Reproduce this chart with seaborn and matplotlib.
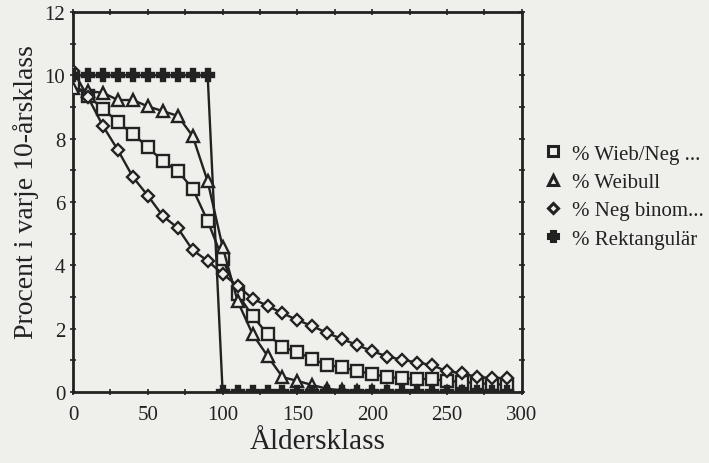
import matplotlib
matplotlib.use("Agg")
import matplotlib.pyplot as plt
import seaborn as sns
import pandas as pd
from matplotlib.ticker import MultipleLocator

sns.set_theme(style="ticks")
plt.rcParams['font.family'] = ['Liberation Serif', 'DejaVu Serif']

age = [0, 10, 20, 30, 40, 50, 60, 70, 80, 90, 100, 110, 120, 130, 140,
       150, 160, 170, 180, 190, 200, 210, 220, 230, 240, 250, 260, 270, 280, 290]

wieb_neg = [9.7, 9.35, 8.95, 8.52, 8.15, 7.73, 7.29, 6.98, 6.42, 5.4, 4.2, 3.1, 2.4, 1.83, 1.42,
            1.26, 1.04, 0.85, 0.78, 0.66, 0.57, 0.47, 0.44, 0.41, 0.41, 0.35, 0.32, 0.28, 0.25, 0.23]
weibull = [9.6, 9.5, 9.45, 9.22, 9.22, 9.02, 8.87, 8.72, 8.08, 6.65, 4.58, 2.87, 1.83, 1.14, 0.47,
           0.35, 0.22, 0.1, 0.05, 0.03, 0.02, 0.01, 0.0, 0.0, 0.0, 0.0, 0.0, 0.0, 0.0, 0.0]
neg_binom = [10.15, 9.31, 8.4, 7.64, 6.79, 6.2, 5.56, 5.18, 4.48, 4.14, 3.73, 3.35, 2.95, 2.72, 2.49,
             2.27, 2.08, 1.86, 1.67, 1.48, 1.29, 1.12, 1.02, 0.93, 0.85, 0.65, 0.6, 0.47, 0.44, 0.44]
rektangular = [10, 10, 10, 10, 10, 10, 10, 10, 10, 10, 0, 0, 0, 0, 0,
               0, 0, 0, 0, 0, 0, 0, 0, 0, 0, 0, 0, 0, 0, 0]

labels = ["% Wieb/Neg ...", "% Weibull", "% Neg binom...", "% Rektangulär"]
series = [wieb_neg, weibull, neg_binom, rektangular]
markers = ["s", "^", "D", "P"]

ink = "#222222"
bg = "#efefeb"
fig = plt.figure(figsize=(7.09, 4.64), dpi=100, facecolor=bg)
ax = fig.add_axes([0.103, 0.153, 0.633, 0.819])
ax.set_facecolor(bg)

for lab, vals, mk in zip(labels, series, markers):
    df = pd.DataFrame({"age": age, "val": vals})
    ms = 8 if mk != "D" else 6.5
    face = bg if mk != "P" else ink
    sns.lineplot(data=df, x="age", y="val", ax=ax, color=ink, linewidth=1.7,
                 marker=mk, markersize=ms, markerfacecolor=face, markeredgecolor=ink,
                 markeredgewidth=1.7, label=lab, zorder=3)

ax.set_xlim(0, 300)
ax.set_ylim(0, 12)
ax.xaxis.set_major_locator(MultipleLocator(50))
ax.xaxis.set_minor_locator(MultipleLocator(25))
ax.yaxis.set_major_locator(MultipleLocator(2))
ax.yaxis.set_minor_locator(MultipleLocator(1))
ax.tick_params(which="both", direction="inout", top=True, right=True, length=5,
               width=1.2, color=ink, labelsize=15, labelcolor=ink)
ax.tick_params(axis="x", pad=7)
ax.tick_params(axis="y", pad=3)
ax.tick_params(which="minor", length=4)
for s in ax.spines.values():
    s.set_linewidth(2)
    s.set_color(ink)

ax.set_xlabel("Åldersklass", fontsize=21, color=ink)
ax.set_ylabel("Procent i varje 10-årsklass", fontsize=20, color=ink)
ax.xaxis.set_label_coords(0.545, -0.095)
ax.yaxis.set_label_coords(-0.075, 0.53)

leg = ax.legend(loc="center left", bbox_to_anchor=(1.01, 0.515), frameon=False,
                fontsize=15, handlelength=0.8, handletextpad=0.5, labelspacing=0.42,
                borderaxespad=0.5)
for h, mk in zip(leg.legend_handles, markers):
    h.set_linestyle("None")
    h.set_markerfacecolor(ink if mk == "P" else bg)
    h.set_markeredgewidth(2.2)
    h.set_markersize(6.5 if mk != "D" else 5.5)
for t in leg.get_texts():
    t.set_color(ink)

fig.savefig("out.png", dpi=100, facecolor=bg)
